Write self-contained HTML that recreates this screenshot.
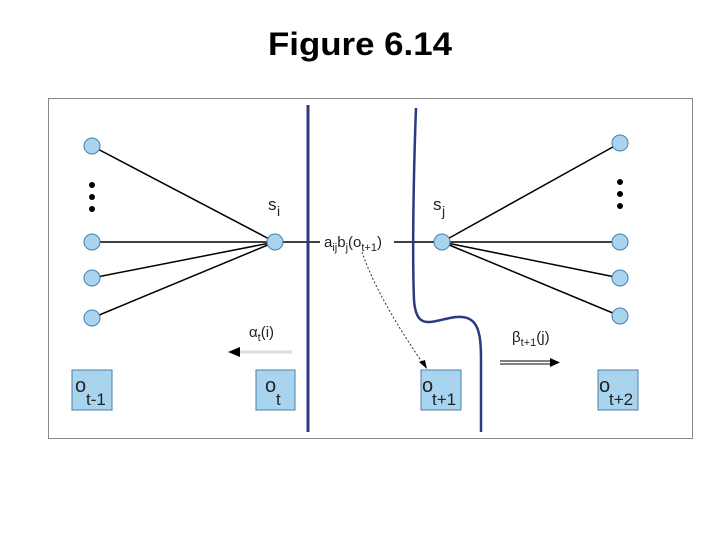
<!DOCTYPE html>
<html><head><style>
body{margin:0;width:720px;height:540px;background:#fff;overflow:hidden;font-family:"Liberation Sans",sans-serif;}
</style></head><body>
<svg width="720" height="540" xmlns="http://www.w3.org/2000/svg" font-family="Liberation Sans, sans-serif">
<text x="360" y="55" text-anchor="middle" font-size="32" font-weight="bold" textLength="184" lengthAdjust="spacingAndGlyphs">Figure 6.14</text>
<rect x="48.5" y="98.5" width="644" height="340" fill="#fff" stroke="#888" stroke-width="1"/>
<g stroke="#000" stroke-width="1.5">
<line x1="92" y1="146" x2="275" y2="242"/>
<line x1="92" y1="242" x2="275" y2="242"/>
<line x1="92" y1="278" x2="275" y2="242"/>
<line x1="92" y1="318" x2="275" y2="242"/>
<line x1="275" y1="242" x2="320" y2="242"/>
<line x1="394" y1="242" x2="442" y2="242"/>
<line x1="620" y1="143" x2="442" y2="242"/>
<line x1="620" y1="242" x2="442" y2="242"/>
<line x1="620" y1="278" x2="442" y2="242"/>
<line x1="620" y1="316" x2="442" y2="242"/>
</g>
<g fill="#000">
<circle cx="92" cy="185" r="3"/><circle cx="92" cy="197" r="3"/><circle cx="92" cy="209" r="3"/>
<circle cx="620" cy="182" r="3"/><circle cx="620" cy="194" r="3"/><circle cx="620" cy="206" r="3"/>
</g>
<g fill="#a8d4ef" stroke="#4a7fa8" stroke-width="1">
<circle cx="92" cy="146" r="8"/><circle cx="92" cy="242" r="8"/><circle cx="92" cy="278" r="8"/><circle cx="92" cy="318" r="8"/>
<circle cx="275" cy="242" r="8"/><circle cx="442" cy="242" r="8"/>
<circle cx="620" cy="143" r="8"/><circle cx="620" cy="242" r="8"/><circle cx="620" cy="278" r="8"/><circle cx="620" cy="316" r="8"/>
</g>
<line x1="308" y1="105" x2="308" y2="432" stroke="#2c3a7e" stroke-width="3"/>
<path d="M416,108 C414,160 412,250 414,300 C416,330 430,322 450,318 C478,312 481,330 481,360 L481,432" fill="none" stroke="#2c3a7e" stroke-width="2.5"/>
<g fill="#a8d4ef" stroke="#4a7fa8" stroke-width="1">
<rect x="72" y="370" width="40" height="40"/><rect x="256" y="370" width="39" height="40"/>
<rect x="421" y="370" width="40" height="40"/><rect x="598" y="370" width="40" height="40"/>
</g>
<g font-size="20" fill="#222">
<text x="75" y="392">o</text><text x="86" y="405" font-size="17">t-1</text>
<text x="265" y="392">o</text><text x="276" y="405" font-size="17">t</text>
<text x="422" y="392">o</text><text x="432" y="405" font-size="17">t+1</text>
<text x="599" y="392">o</text><text x="609" y="405" font-size="17">t+2</text>
<text x="268" y="210" font-size="17">s</text><text x="277" y="216" font-size="14">i</text>
<text x="433" y="210" font-size="17">s</text><text x="442" y="216" font-size="14">j</text>
<text x="324" y="247" font-size="15">a<tspan font-size="11" dy="4">ij</tspan><tspan dy="-4">b</tspan><tspan font-size="11" dy="4">j</tspan><tspan dy="-4">(o</tspan><tspan font-size="11" dy="4">t+1</tspan><tspan dy="-4">)</tspan></text>
<text x="249" y="337" font-size="15">α<tspan font-size="11" dy="4">t</tspan><tspan dy="-4">(i)</tspan></text>
<text x="512" y="342" font-size="15">β<tspan font-size="11" dy="4">t+1</tspan><tspan dy="-4">(j)</tspan></text>
</g>
<path d="M362,252 C375,290 400,330 424,365" fill="none" stroke="#333" stroke-width="1" stroke-dasharray="2,2"/>
<polygon points="427,369 419,362 425,360" fill="#000"/>
<line x1="240" y1="352" x2="292" y2="352" stroke="#ddd" stroke-width="3"/>
<polygon points="228,352 240,347 240,357" fill="#000"/>
<line x1="500" y1="361" x2="552" y2="361" stroke="#000" stroke-width="1"/>
<line x1="500" y1="364" x2="552" y2="364" stroke="#000" stroke-width="1"/>
<polygon points="560,362.5 550,358 550,367" fill="#000"/>
</svg>
</body></html>
